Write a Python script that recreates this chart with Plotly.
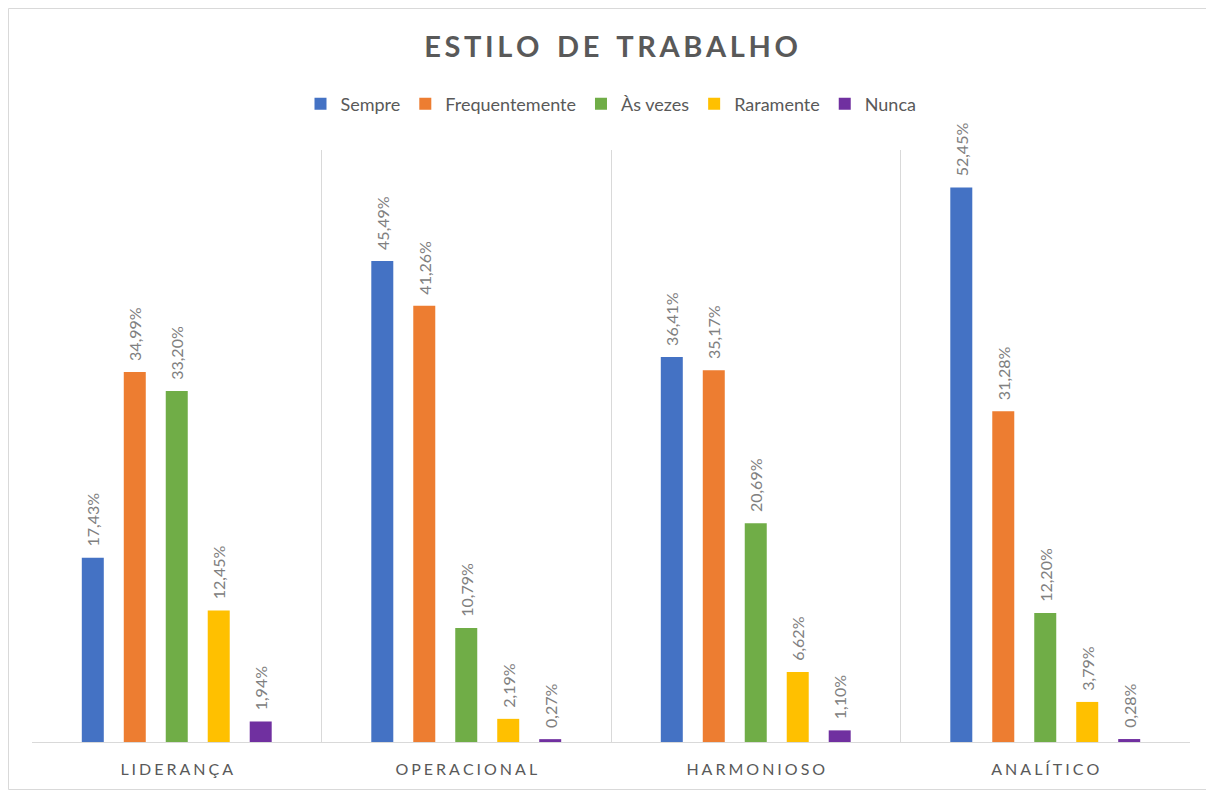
import plotly.graph_objects as go

categories = ["LIDERANÇA", "OPERACIONAL", "HARMONIOSO", "ANALÍTICO"]
series_names = ["Sempre", "Frequentemente", "Às vezes", "Raramente", "Nunca"]
sempre = [17.43, 45.49, 36.41, 52.45]
frequentemente = [34.99, 41.26, 35.17, 31.28]
as_vezes = [33.20, 10.79, 20.69, 12.20]
raramente = [12.45, 2.19, 6.62, 3.79]
nunca = [1.94, 0.27, 1.10, 0.28]
series_values = [sempre, frequentemente, as_vezes, raramente, nunca]
colors = ["#4472C4", "#ED7D31", "#70AD47", "#FFC000", "#7030A0"]

THIN = "\u2009"
spaced_cats = [(THIN + "\u200a").join(list(c)) for c in categories]
title_text = "ESTILO DE TRABALHO"
spaced_title = THIN.join(list(title_text)).replace(THIN + " " + THIN, " " + THIN + " ")

FONT = "Lato, 'Open Sans', sans-serif"

# the page has an 8px body margin; figure size and margins compensate
W, H = 1206, 782
ML, MR, MT, MB = 24, 24, 142, 48
PW = W - ML - MR
PH = H - MT - MB

fig = go.Figure()
for name, vals, col in zip(series_names, series_values, colors):
    fig.add_trace(go.Bar(
        name=name,
        x=spaced_cats,
        y=vals,
        marker=dict(color=col, line=dict(width=0)),
        text=["\u00a0\u00a0" + f"{v:.2f}".replace(".", ",") + "%" for v in vals],
        textposition="outside",
        textangle=-90,
        constraintext="none",
        cliponaxis=False,
        textfont=dict(family=FONT, size=16, color="#808080"),
        hoverinfo="skip",
    ))

fig.update_layout(
    width=W,
    height=H,
    paper_bgcolor="white",
    plot_bgcolor="white",
    barmode="group",
    bargap=0.275,
    bargroupgap=0.476,
    margin=dict(l=ML, r=MR, t=MT, b=MB),
    font=dict(family=FONT, color="#595959"),
    title=dict(
        text="<b>" + spaced_title + "</b>",
        x=0.5, xanchor="center",
        y=1 - 39 / H, yanchor="middle",
        font=dict(family=FONT, size=29, color="#595959"),
    ),
    legend=dict(
        orientation="h",
        x=0.5, xanchor="center",
        y=(PH + MT - 96) / PH, yanchor="middle",
        font=dict(family=FONT, size=18, color="#595959"),
        itemwidth=30,
        traceorder="normal",
    ),
    xaxis=dict(
        tickson="boundaries",
        showgrid=True,
        gridcolor="#d9d9d9",
        gridwidth=1,
        showline=True,
        linecolor="#d9d9d9",
        linewidth=1,
        ticks="",
        ticklabelstandoff=13,
        tickfont=dict(family=FONT, size=16, color="#595959"),
    ),
    yaxis=dict(
        range=[0, 56],
        showgrid=False,
        zeroline=False,
        showticklabels=False,
        showline=False,
    ),
    shapes=[dict(
        type="rect", xref="paper", yref="paper",
        x0=(0.5 - ML) / PW, x1=(W - 0.5 - ML) / PW,
        y0=-(MB - 0.5) / PH, y1=(PH + MT - 0.5) / PH,
        line=dict(color="#d9d9d9", width=1),
        fillcolor="rgba(0,0,0,0)",
        layer="below",
    )],
)

fig.write_html("out.html")
